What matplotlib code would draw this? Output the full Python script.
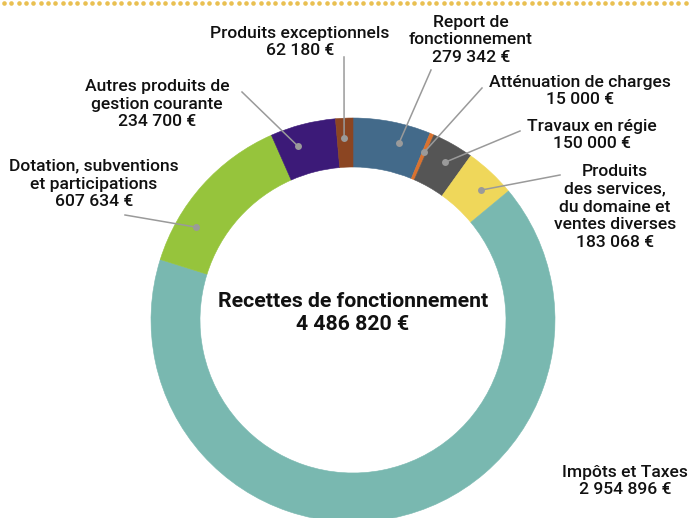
import numpy as np
import matplotlib.pyplot as plt

plt.rcParams['font.family'] = ['Roboto', 'DejaVu Sans']

# data
labels = ["Report de\nfonctionnement", "Atténuation de charges", "Travaux en régie",
          "Produits\ndes services,\ndu domaine et\nventes diverses", "Impôts et Taxes",
          "Dotation, subventions\net participations", "Autres produits de\ngestion courante",
          "Produits exceptionnels"]
values = [279342, 15000, 150000, 183068, 2954896, 607634, 234700, 62180]
colors = ['#436a8a', '#d9722f', '#555555', '#efd75a', '#79b8b0', '#96c43c', '#3c1a78', '#8b4522']
total_label = "Recettes de fonctionnement"

# layout (pixel coords, y up)
W, H = 689, 518
cx, cy = 353, 198
r_out, ring = 202, 49
# where the label text sits, where the leader line ends, where on the wedge the dot sits
text_pos = [(471, 478), (580, 427), (592, 383), (615, 311), (625, 37), (94, 334), (157, 414), (300, 476)]
line_end = [(431, 448), (482, 430), (520, 387), (560, 343), None, (125, 303), (242, 426), (344, 461)]
dot_frac = [0.65, 0.5, 0.55, 0.61, None, 0.27, 0.33, 0.44]


def fmt(v):
    return f"{v:,}".replace(",", " ") + " €"


fig = plt.figure(figsize=(6.89, 5.18), dpi=100)
ax = fig.add_axes([0, 0, 1, 1])
ax.set_xlim(0, W)
ax.set_ylim(0, H)
ax.set_aspect('equal')
ax.axis('off')

wedges, _ = ax.pie(values, colors=colors, radius=r_out, center=(cx, cy), startangle=90,
                   counterclock=False, wedgeprops=dict(width=ring, linewidth=0.4))
for w in wedges:
    w.set_edgecolor(w.get_facecolor())
ax.set_xlim(0, W)
ax.set_ylim(0, H)

# top dotted border
xs = np.arange(4, W, 7.33)
ax.plot(xs, np.full(len(xs), H - 3), 'o', color='#e9c052', markersize=3.3, markeredgewidth=0)

r_mid = r_out - ring / 2 + 5
for w, lab, v, tp, le, fr in zip(wedges, labels, values, text_pos, line_end, dot_frac):
    ax.text(tp[0], tp[1], lab + "\n" + fmt(v), ha='center', va='center', fontsize=12.6,
            fontweight='medium', color='#111111', linespacing=1.22)
    if le is None:
        continue
    # wedge angles are counter-clockwise math angles: theta1 < theta2
    ang = np.deg2rad(w.theta2 - fr * (w.theta2 - w.theta1))
    dx, dy = cx + r_mid * np.cos(ang), cy + r_mid * np.sin(ang)
    ax.plot([dx, le[0]], [dy, le[1]], color='#9a9a9a', lw=1.1)
    ax.plot(dx, dy, 'o', color='#9a9a9a', markersize=5, markeredgewidth=0)

ax.text(cx, 205, total_label + "\n" + fmt(sum(values)), ha='center', va='center',
        fontsize=15.3, fontweight='bold', color='#111111', linespacing=1.3)

fig.savefig('out.png', dpi=100)
